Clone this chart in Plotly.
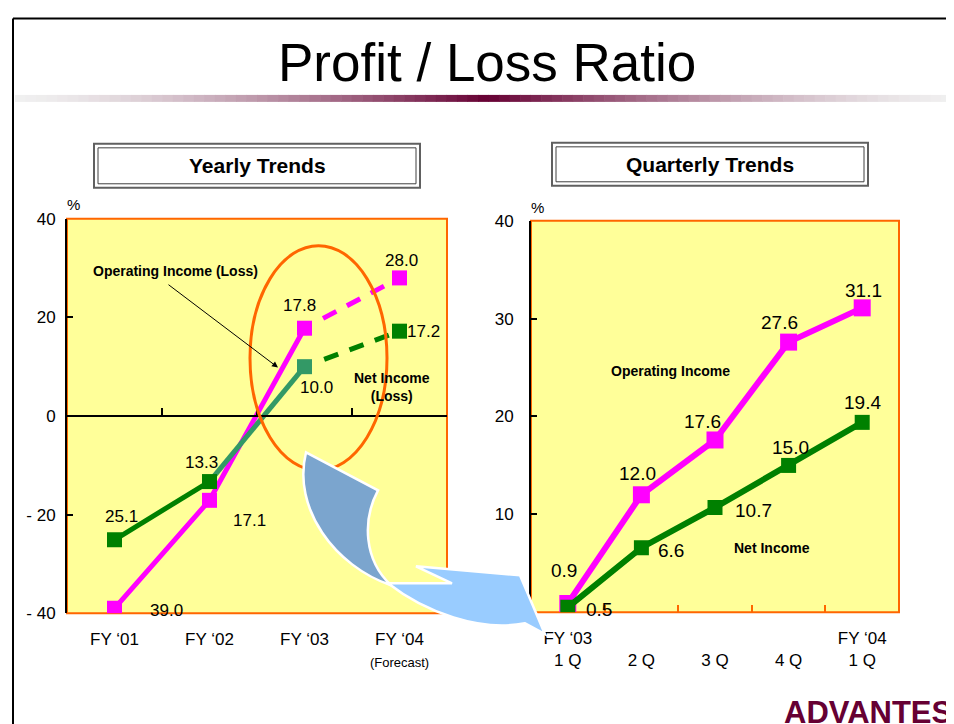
import plotly.graph_objects as go

# ---------------- data ----------------
years = ["FY ‘01", "FY ‘02", "FY ‘03", "FY ‘04<br><span style='font-size:13px'>(Forecast)</span>"]
year_op = [-39.0, -17.1, 17.8, 28.0]
year_net = [-25.1, -13.3, 10.0, 17.2]
year_yticks = [-40, -20, 0, 20, 40]
year_yticktext = ["- 40", "- 20", "0", "20", "40"]

quarters = ["FY ‘03<br>1 Q", " <br>2 Q", " <br>3 Q", " <br>4 Q", "FY ‘04<br>1 Q"]
q_op = [0.9, 12.0, 17.6, 27.6, 31.1]
q_net = [0.5, 6.6, 10.7, 15.0, 19.4]
q_yticks = [0, 10, 20, 30, 40]

# ---------------- style ----------------
W, H = 954, 724
OX, OY, SY = 8, 16, 0.975   # page offset / vertical scale observed in the rendered page
MAG = "#FF00FF"
GRN = "#008000"
TEAL = "#339966"
ORANGE = "#FF6600"
YEL = "#FFFF99"
SANS = "Liberation Sans, Arial, sans-serif"


def px(x):
    return (x - OX) / W


def py(y):
    return 1 - (y - OY) / SY / H


# plot areas in (screen) pixels
L_X0, L_X1, L_Y0, L_Y1 = 67, 447, 218, 613
R_X0, R_X1, R_Y0, R_Y1 = 531, 899, 220, 612
YR_L = [-40, 40]
YR_R = [0, 40]
ydomL = [py(L_Y1), py(L_Y0)]
zero_pos = ydomL[0] + (0 - YR_L[0]) / (YR_L[1] - YR_L[0]) * (ydomL[1] - ydomL[0])

fig = go.Figure()

DASH = "0px,21px,15px,12px,15px,12px,15px,30px"

# ---- yearly traces ----
xi = list(range(len(years)))
fig.add_trace(go.Scatter(x=xi[:3], y=year_op[:3], mode="lines",
                         line=dict(color=MAG, width=5), xaxis="x", yaxis="y"))
fig.add_trace(go.Scatter(x=xi[2:], y=year_op[2:], mode="lines",
                         line=dict(color=MAG, width=5, dash=DASH), xaxis="x", yaxis="y"))
fig.add_trace(go.Scatter(x=xi, y=year_op, mode="markers",
                         marker=dict(symbol="square", size=15, color=MAG), xaxis="x", yaxis="y"))
fig.add_trace(go.Scatter(x=xi[:2], y=year_net[:2], mode="lines",
                         line=dict(color=GRN, width=5), xaxis="x", yaxis="y"))
fig.add_trace(go.Scatter(x=xi[1:3], y=year_net[1:3], mode="lines",
                         line=dict(color=TEAL, width=5), xaxis="x", yaxis="y"))
fig.add_trace(go.Scatter(x=xi[2:], y=year_net[2:], mode="lines",
                         line=dict(color=GRN, width=5, dash=DASH), xaxis="x", yaxis="y"))
fig.add_trace(go.Scatter(x=xi, y=year_net, mode="markers",
                         marker=dict(symbol="square", size=15, color=[GRN, GRN, TEAL, GRN]),
                         xaxis="x", yaxis="y"))
# dummy trace for the zero-line axis
fig.add_trace(go.Scatter(x=[None], y=[None], xaxis="x3", yaxis="y", hoverinfo="skip"))

# ---- quarterly traces ----
qi = list(range(len(quarters)))
fig.add_trace(go.Scatter(x=qi, y=q_op, mode="lines+markers",
                         line=dict(color=MAG, width=6),
                         marker=dict(symbol="square", size=17, color=MAG), xaxis="x2", yaxis="y2"))
fig.add_trace(go.Scatter(x=qi, y=q_net, mode="lines+markers",
                         line=dict(color=GRN, width=6),
                         marker=dict(symbol="square", size=15, color=GRN), xaxis="x2", yaxis="y2"))
fig.add_trace(go.Scatter(x=[None], y=[None], xaxis="x4", yaxis="y2", hoverinfo="skip"))

# ---------------- axes ----------------
tickfont = dict(family=SANS, size=17, color="black")
fig.update_layout(
    xaxis=dict(domain=[px(L_X0), px(L_X1)], range=[-0.5, 3.5], tickvals=xi, ticktext=years,
               ticks="", showline=False, showgrid=False, zeroline=False, anchor="y",
               tickfont=tickfont, ticklabelstandoff=14),
    yaxis=dict(domain=ydomL, range=YR_L, tickvals=year_yticks, ticktext=year_yticktext,
               ticks="inside", ticklen=6, tickcolor="black", tickwidth=1.5,
               showline=True, linecolor="black", linewidth=2, showgrid=False, zeroline=False,
               anchor="x", tickfont=tickfont, ticklabelstandoff=6),
    xaxis3=dict(overlaying="x", anchor="free", position=zero_pos, range=[-0.5, 3.5],
                tickvals=[0.5, 1.5, 2.5], ticks="inside", ticklen=7, tickcolor="black", tickwidth=1.5,
                showticklabels=False, showline=True, linecolor="black", linewidth=1.5,
                showgrid=False, zeroline=False),
    xaxis2=dict(domain=[px(R_X0), px(R_X1)], range=[-0.5, 4.5], tickvals=qi, ticktext=quarters,
                ticks="", showline=False, showgrid=False, zeroline=False, anchor="y2",
                tickfont=tickfont, ticklabelstandoff=14),
    yaxis2=dict(domain=[py(R_Y1), py(R_Y0)], range=YR_R, tickvals=q_yticks,
                ticks="inside", ticklen=6, tickcolor="black", tickwidth=1.5,
                showline=True, linecolor="black", linewidth=2, showgrid=False, zeroline=False,
                anchor="x2", tickfont=tickfont, ticklabelstandoff=12),
    xaxis4=dict(overlaying="x2", anchor="y2", range=[-0.5, 4.5],
                tickvals=[0.5, 1.5, 2.5, 3.5], ticks="inside", ticklen=7, tickcolor=ORANGE, tickwidth=1.5,
                showticklabels=False, showline=False, showgrid=False, zeroline=False),
)

shapes = []
# plot backgrounds with orange frames
for xr, yr in (("x domain", "y domain"), ("x2 domain", "y2 domain")):
    shapes.append(dict(type="rect", xref=xr, yref=yr, x0=0, x1=1, y0=0, y1=1,
                       line=dict(color=ORANGE, width=2), fillcolor=YEL, layer="below"))

# slide frame
shapes.append(dict(type="line", xref="paper", yref="paper", x0=px(13), x1=px(970), y0=py(17.5), y1=py(17.5),
                   line=dict(color="black", width=2)))
shapes.append(dict(type="line", xref="paper", yref="paper", x0=px(13), x1=px(13), y0=py(17.5), y1=py(740),
                   line=dict(color="black", width=2)))


# gradient band under the title
def mix(c1, c2, t):
    return "rgb(%d,%d,%d)" % tuple(round(a + (b - a) * t) for a, b in zip(c1, c2))


light = (240, 240, 240)
dark = (102, 0, 51)
bx0, bx1, bc = 15, 962, 487
n = 90
for k in range(n):
    xa = bx0 + (bx1 - bx0) * k / n
    xb = bx0 + (bx1 - bx0) * (k + 1) / n + 0.6
    xm = (xa + xb) / 2
    d = min(1.0, abs(xm - bc) / (bc - bx0))
    t = (1 - d) ** 1.5
    shapes.append(dict(type="rect", xref="paper", yref="paper", x0=px(xa), x1=px(xb),
                       y0=py(101), y1=py(94), line=dict(width=0), fillcolor=mix(light, dark, t)))

# section title boxes
for (x0, x1, y0, y1) in ((94, 420, 143, 187), (552, 868, 142, 185)):
    shapes.append(dict(type="rect", xref="paper", yref="paper", x0=px(x0), x1=px(x1), y0=py(y1), y1=py(y0),
                       line=dict(color="#606060", width=2), fillcolor="white"))
    shapes.append(dict(type="rect", xref="paper", yref="paper", x0=px(x0 + 4), x1=px(x1 - 4),
                       y0=py(y1 - 4), y1=py(y0 + 4), line=dict(color="#404040", width=1)))

# orange ellipse
shapes.append(dict(type="circle", xref="paper", yref="paper", x0=px(250), x1=px(387), y0=py(470), y1=py(245),
                   line=dict(color=ORANGE, width=3), layer="above"))


def path(cmds):
    out = []
    for c in cmds:
        if isinstance(c, str):
            out.append(c)
        else:
            out.append("%.5f,%.5f" % (px(c[0]), py(c[1])))
    return " ".join(out)


dark_part = path(["M", (306, 452), "L", (378, 490), "C", (362, 520), (364, 560), (391, 585),
                  "C", (335, 566), (292, 508), (306, 452), "Z"])
light_part = path(["M", (388, 583), "L", (452, 583), "L", (416, 566), "L", (520, 575), "L", (545, 634),
                   "L", (525, 623), "C", (480, 632), (425, 612), (388, 583), "Z"])
shapes.append(dict(type="path", xref="paper", yref="paper", path=dark_part, fillcolor="#7BA5CE",
                   line=dict(color="white", width=2.5), layer="above"))
shapes.append(dict(type="path", xref="paper", yref="paper", path=light_part, fillcolor="#99CCFF",
                   line=dict(color="white", width=2.5), layer="above"))

fig.update_layout(shapes=shapes)

# ---------------- annotations ----------------
ann = []


def label(x, y, text, xref, yref, xs, ys, font):
    ann.append(dict(x=x, y=y, xref=xref, yref=yref, text=text, showarrow=False,
                    xshift=xs, yshift=ys, font=font))


yfont = dict(family=SANS, size=17, color="black")
op_shift = [(52, -2), (40, -20), (-5, 23), (2, 17)]
net_shift = [(7, 23), (-8, 19), (12, -21), (24, 0)]
for i, v in enumerate(year_op):
    label(i, v, "%.1f" % abs(v), "x", "y", op_shift[i][0], op_shift[i][1], yfont)
for i, v in enumerate(year_net):
    label(i, v, "%.1f" % abs(v), "x", "y", net_shift[i][0], net_shift[i][1], yfont)

qfont = dict(family=SANS, size=19, color="black")
qop_shift = [(-4, 33), (-4, 21), (-13, 18), (-9, 20), (1, 17)]
qnet_shift = [(31, -2), (30, -3), (38, -3), (2, 18), (0, 20)]
for i, v in enumerate(q_op):
    label(i, v, "%.1f" % v, "x2", "y2", qop_shift[i][0], qop_shift[i][1], qfont)
for i, v in enumerate(q_net):
    label(i, v, "%.1f" % v, "x2", "y2", qnet_shift[i][0], qnet_shift[i][1], qfont)

bold = dict(family=SANS, size=14, color="black", weight="bold")


def ptext(x, y, text, font, xanchor="center", yanchor="middle"):
    ann.append(dict(x=px(x), y=py(y), xref="paper", yref="paper", text=text, showarrow=False,
                    font=font, xanchor=xanchor, yanchor=yanchor))


ptext(487, 62, "Profit / Loss Ratio", dict(family=SANS, size=53, color="black"))
ptext(257, 165, "Yearly Trends", dict(family=SANS, size=21, color="black", weight="bold"))
ptext(710, 164, "Quarterly Trends", dict(family=SANS, size=21, color="black", weight="bold"))
ptext(175, 270, "Operating Income (Loss)", bold)
ptext(392, 386, "Net Income<br>(Loss)", bold)
ptext(670, 370, "Operating Income", bold)
ptext(772, 548, "Net Income", bold)
ptext(73, 204, "%", dict(family=SANS, size=15, color="black"))
ptext(537, 207, "%", dict(family=SANS, size=15, color="black"))
ptext(782, 712, "ADVANTEST", dict(family=SANS, size=31, color="#660033", weight="bold"),
      xanchor="left", yanchor="middle")

# arrow for operating income label
ann.append(dict(x=px(278), y=py(367), xref="paper", yref="paper", ax=167 - 278, ay=283 - 367,
                axref="pixel", ayref="pixel", text="", showarrow=True, arrowhead=2, arrowsize=1.2,
                arrowwidth=1, arrowcolor="black"))

fig.update_layout(
    annotations=ann,
    width=W, height=H, margin=dict(l=0, r=0, t=0, b=0),
    paper_bgcolor="white", plot_bgcolor="rgba(0,0,0,0)",
    showlegend=False, font=dict(family=SANS),
)

fig.write_html("out.html")
